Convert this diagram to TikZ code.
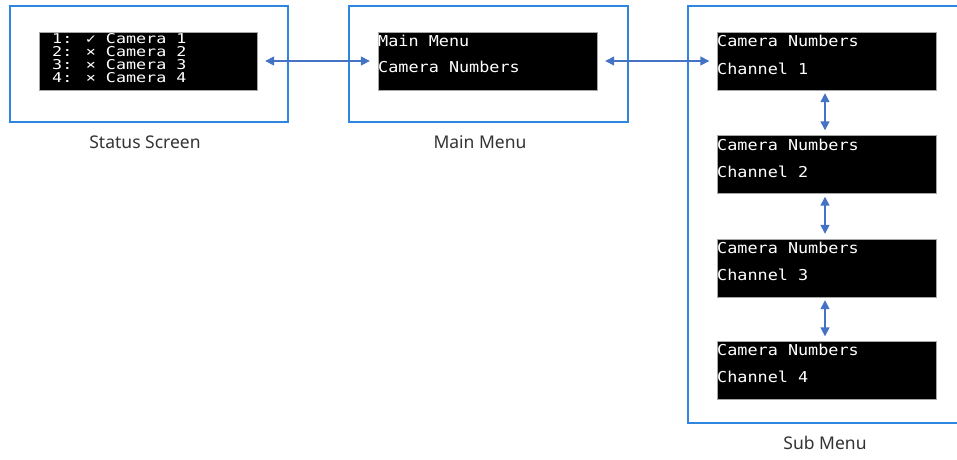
\documentclass[tikz,border=0pt]{standalone}
\usepackage{fontspec}
\setmainfont{Noto Sans}
\newfontfamily\lcdfont[FakeStretch=1.12]{DejaVu Sans Mono}
\newfontfamily\statusfont[FakeStretch=1.24]{DejaVu Sans Mono}
\usepackage{tikz}
\usetikzlibrary{arrows.meta}
\definecolor{frameblue}{RGB}{46,134,222}
\definecolor{arrowblue}{RGB}{68,114,196}
\tikzset{arrow/.style={<->, >={Triangle[length=9pt,width=9pt]}, draw=arrowblue, line width=1.5pt, shorten <=8pt, shorten >=8pt}}
\tikzset{vert-arrow/.style={arrow, shorten <=3pt, shorten >=5pt}}
\tikzset{frame/.style={draw=frameblue, line width=1.5pt, minimum height=116pt, inner sep=0pt}}
\tikzset{screen/.style={draw=gray!70, fill=black, minimum width=219pt, minimum height=58pt, inner sep=0pt}}
\tikzset{lcd/.style={text=white, font=\lcdfont\fontsize{15}{13}\selectfont, anchor=base west, inner sep=0pt}}
\tikzset{status-line/.style={lcd, font=\statusfont\fontsize{13.5}{13}\selectfont, text height=9.5pt, text depth=2pt}}
\tikzset{caption/.style={font=\fontsize{17.5}{19}\selectfont, text=black!80}}

\begin{document}
\begin{tikzpicture}[x=1pt, y=-1pt]
      \useasboundingbox (0,0) rectangle (957,459);
      \clip (0,0) rectangle (957,459);

      \node[frame, minimum width=278pt] (F1) at (149, 64) {};
      \node[frame, minimum width=279pt] (F2) at (488.5, 64) {};
      \node[frame, minimum width=287pt, minimum height=417pt] (F3) at (831.5, 214.5) {};

      \node[screen, minimum width=218pt] (status) at (148, 61) {};
      \node[screen] (main) at (487.5, 61) {};
      \node[screen] (sub1) at (827, 61) {};
      \node[screen] (sub2) at (827, 164.5) {};
      \node[screen] (sub3) at (827, 268) {};
      \node[screen] (sub4) at (827, 370.5) {};

      \node[status-line] (st1) at (52, 43) {1: \symbol{"2713} Camera 1};
      \node[status-line] (st2) at (52, 56) {2: \symbol{"00D7} Camera 2};
      \node[status-line] (st3) at (52, 69) {3: \symbol{"00D7} Camera 3};
      \node[status-line] (st4) at (52, 82) {4: \symbol{"00D7} Camera 4};

      \node[lcd] (m1) at (378, 46) {Main Menu};
      \node[lcd] (m2) at (378, 72.5) {Camera Numbers};

      \node[lcd] (s1a) at (717, 46) {Camera Numbers};
      \node[lcd] (s1b) at (717, 74) {Channel 1};
      \node[lcd] (s2a) at (717, 150) {Camera Numbers};
      \node[lcd] (s2b) at (717, 177) {Channel 2};
      \node[lcd] (s3a) at (717, 253) {Camera Numbers};
      \node[lcd] (s3b) at (717, 280) {Channel 3};
      \node[lcd] (s4a) at (717, 355) {Camera Numbers};
      \node[lcd] (s4b) at (717, 382) {Channel 4};

      \node[caption] (L1) at (145, 142) {Status Screen};
      \node[caption] (L2) at (480, 142) {Main Menu};
      \node[caption] (L3) at (825, 443) {Sub Menu};

      \draw[arrow] (status.east) -- (main.west);
      \draw[arrow] (main.east) -- (sub1.west);
      \draw[vert-arrow] (sub1.south -| 825,0) -- (sub2.north -| 825,0);
      \draw[vert-arrow] (sub2.south -| 825,0) -- (sub3.north -| 825,0);
      \draw[vert-arrow] (sub3.south -| 825,0) -- (sub4.north -| 825,0);
    \end{tikzpicture}
\end{document}
